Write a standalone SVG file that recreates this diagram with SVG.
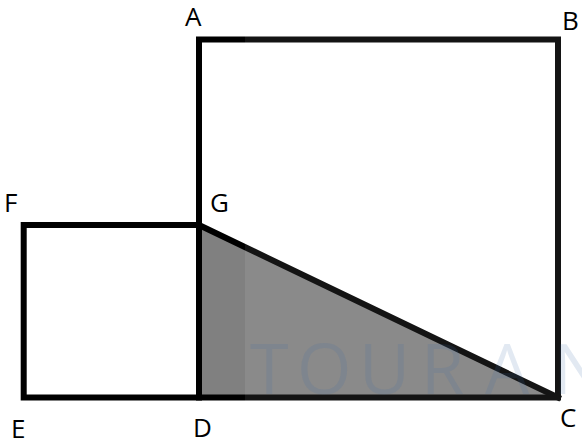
<svg xmlns="http://www.w3.org/2000/svg" width="582" height="445" viewBox="0 0 582 445">
<style>
.edge{fill:none;stroke:#000;stroke-width:6;stroke-linejoin:miter;stroke-linecap:square}
.lbl{font-family:"Open Sans","DejaVu Sans",sans-serif;font-size:26px;fill:#000}
.wm{font-family:"Open Sans","DejaVu Sans",sans-serif;font-size:70px;fill:#3a6ea5;fill-opacity:0.15}
</style>
<rect width="582" height="445" fill="#fff"/>
<g id="shade">
<polygon points="199,225 199,397.5 558,397.5" fill="#808080"/>
</g>
<g id="connectors">
<rect id="square-ABCD" class="edge" x="199" y="39.5" width="359" height="358"/>
<rect id="square-EFGD" class="edge" x="23.7" y="225" width="175.3" height="172.5"/>
<line id="GC" class="edge" x1="199" y1="225" x2="558" y2="397.5"/>
</g>
<g id="watermark">
<rect x="245" y="0" width="337" height="445" fill="#fff" fill-opacity="0.08"/>
<text class="wm" x="250 297 359 421 485 553" y="394">TOURAN</text>
</g>
<g id="node-A"><text class="lbl" x="185" y="26">A</text></g>
<g id="node-B"><text class="lbl" x="562" y="30">B</text></g>
<g id="node-C"><text class="lbl" x="560" y="427">C</text></g>
<g id="node-D"><text class="lbl" x="193" y="437">D</text></g>
<g id="node-E"><text class="lbl" x="11" y="438">E</text></g>
<g id="node-F"><text class="lbl" x="4" y="212">F</text></g>
<g id="node-G"><text class="lbl" x="210" y="212">G</text></g>
</svg>
